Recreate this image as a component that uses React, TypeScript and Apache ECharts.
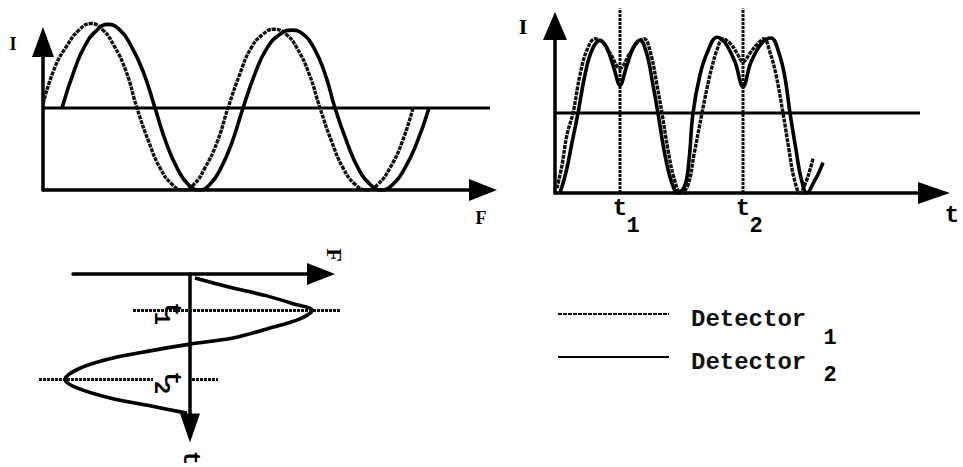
import React, { useEffect, useRef } from "react";
import * as echarts from "echarts";

// Detector names shown in the legend, with their subscripts
const DETECTORS = ["Detector 1", "Detector 2"];
const DETECTOR_SUBS = ["1", "2"];

// I(F): intensity of each detector against frequency F (mean level = 1)
const freqResponse1: number[][] = [
  [0.0, 1.05], [1.2, 1.5], [2.4, 1.76], [3.6, 1.95], [4.8, 2.03], [6.0, 1.95], [7.1, 1.76],
  [8.3, 1.45], [9.4, 1.0], [10.6, 0.58], [11.7, 0.27], [12.9, 0.07], [14.0, 0.0], [15.1, 0.07],
  [16.2, 0.27], [17.4, 0.58], [18.5, 1.0], [19.7, 1.42], [20.8, 1.73], [22.0, 1.9], [23.1, 1.96],
  [24.3, 1.9], [25.4, 1.73], [26.6, 1.42], [27.7, 1.0], [28.9, 0.58], [30.0, 0.27], [31.2, 0.07],
  [32.4, 0.0], [33.5, 0.07], [34.7, 0.27], [35.9, 0.58], [37.0, 1.0],
];
const freqResponse2: number[][] = [
  [1.9, 1.0], [3.1, 1.45], [4.2, 1.76], [5.4, 1.95], [6.5, 2.02], [7.7, 1.95], [8.8, 1.76],
  [10.0, 1.45], [11.2, 1.0], [12.3, 0.58], [13.4, 0.27], [14.5, 0.07], [15.6, 0.0], [16.7, 0.07],
  [17.8, 0.27], [18.9, 0.58], [20.0, 1.0], [21.2, 1.42], [22.4, 1.73], [23.7, 1.9], [24.9, 1.95],
  [26.0, 1.9], [27.1, 1.73], [28.2, 1.42], [29.2, 1.0], [30.4, 0.58], [31.5, 0.27], [32.7, 0.07],
  [33.8, 0.0], [35.0, 0.07], [36.2, 0.27], [37.4, 0.58], [38.6, 1.0],
];

// I(t): intensity of each detector against time t
const timeResponse1: number[][] = [
  [0.2, 0.06], [0.7, 0.35], [1.2, 0.73], [1.8, 1.0], [2.5, 1.48], [3.2, 1.79], [4.0, 1.93],
  [4.8, 1.88], [5.6, 1.73], [6.5, 1.56], [7.4, 1.73], [8.2, 1.88], [8.9, 1.93], [9.6, 1.73],
  [10.2, 1.35], [10.7, 1.0], [11.3, 0.54], [11.9, 0.19], [12.6, 0.0], [13.3, 0.1], [13.9, 0.48],
  [14.7, 1.0], [15.2, 1.31], [15.7, 1.58], [16.2, 1.79], [16.8, 1.93], [17.6, 1.86], [18.2, 1.75],
  [18.8, 1.64], [19.5, 1.75], [20.2, 1.86], [20.9, 1.93], [21.5, 1.76], [22.1, 1.48], [22.8, 1.0],
  [23.4, 0.54], [23.9, 0.19], [24.5, 0.0], [25.1, 0.14], [25.5, 0.29], [25.8, 0.43],
];
const timeResponse2: number[][] = [
  [0.5, 0.0], [1.1, 0.26], [1.7, 0.63], [2.3, 1.0], [3.0, 1.48], [3.7, 1.79], [4.5, 1.91],
  [5.2, 1.81], [5.9, 1.56], [6.5, 1.35], [7.1, 1.56], [7.8, 1.81], [8.5, 1.91], [9.2, 1.73],
  [9.8, 1.35], [10.3, 1.0], [10.9, 0.54], [11.6, 0.16], [12.3, 0.0], [13.0, 0.1], [13.4, 0.41],
  [13.8, 1.0], [14.5, 1.48], [15.2, 1.75], [16.2, 1.95], [17.0, 1.88], [18.0, 1.64], [18.8, 1.33],
  [19.6, 1.64], [20.7, 1.88], [21.6, 1.94], [22.4, 1.75], [23.0, 1.44], [23.5, 1.0], [24.1, 0.54],
  [24.6, 0.19], [25.2, 0.0], [25.9, 0.14], [26.4, 0.26], [26.8, 0.38],
];

// F(t): frequency sweep, [F, t]
const sweep: number[][] = [
  [0.5, 0.7], [4.3, 2.5], [7.7, 3.9], [10.3, 5.3], [12.2, 6.5], [11.0, 8.0], [7.7, 9.8],
  [4.3, 11.4], [0.0, 12.5], [-4.0, 13.7], [-8.0, 15.1], [-11.0, 16.8], [-12.5, 18.8],
  [-11.3, 20.3], [-8.0, 22.1], [-4.0, 23.5], [-0.3, 24.8],
];

const MEAN_I = 1;
const T1 = 6.5;
const T2 = 18.8;
const TIME_MARKS = [
  { t: T1, sub: "1" },
  { t: T2, sub: "2" },
];

// drawn axis extents
const F_MAX = 44;
const I_MAX_F = 1.805;
const T_MAX = 37.9;
const I_MAX_T = 2.09;
const SWEEP_F_MIN = -11.7;
const SWEEP_F_MAX = 13.1;
const SWEEP_T_MAX = 27.45;
// wider extents of the plotting layers that sit under the drawn axes
const F_MAX_WIDE = 45;
const SWEEP_F_MIN_WIDE = -16.7;
const SWEEP_F_MAX_WIDE = 17.0;

const MEAN_END_F = 44.7;
const MEAN_END_T = 36.5;
const MARK_TOP_I = 2.31;
// [F from, F to, t] of the dotted guides in the sweep panel
const SWEEP_GUIDES = [
  [-5.7, 15.0, T1],
  [-15.1, -3.7, T2],
  [0.2, 2.8, T2],
];

const INK = "#000";
const SERIF = '"Liberation Serif", "Times New Roman", serif';
const MONO = '"Liberation Mono", "DejaVu Sans Mono", monospace';
const dottedStyle = { color: "#111", width: 3.4, type: [4, 1] };
const solidStyle = { color: INK, width: 3.6, type: "solid" };
const meanStyle = { color: INK, width: 3, type: "solid" };
const guideStyle = { color: "#111", width: 3, type: [3, 1] };

// grid geometry (px); wide layers keep the same px-per-unit as the drawn axes
const G_FREQ = { left: 43, top: 42, width: 440, height: 148 };
const G_TIME = { left: 555, top: 26, width: 379, height: 167 };
const G_SWEEP = { left: 73, top: 274, width: 248, height: 154 };
const G_FREQ_WIDE = { left: 43, top: 42, width: 450, height: 148 };
const G_SWEEP_WIDE = { left: 23, top: 274, width: 337, height: 154 };

function makeAxis(gridIndex: number, min: number, max: number, symbol: string[], symbolSize: number[], extra: any = {}) {
  return {
    type: "value",
    gridIndex,
    min,
    max,
    axisLine: {
      show: true,
      onZero: true,
      symbol,
      symbolSize,
      lineStyle: { color: INK, width: 3.5 },
    },
    axisTick: { show: false },
    axisLabel: { show: false },
    splitLine: { show: false },
    ...extra,
  };
}

function hiddenAxis(gridIndex: number, min: number, max: number, extra: any = {}) {
  return { type: "value", gridIndex, min, max, show: false, ...extra };
}

function lineSeries(name: string, axisIndex: number, data: number[][], lineStyle: any, extra: any = {}) {
  return {
    name,
    type: "line",
    xAxisIndex: axisIndex,
    yAxisIndex: axisIndex,
    data,
    smooth: 0.5,
    symbol: "none",
    showSymbol: false,
    clip: false,
    silent: true,
    lineStyle,
    emphasis: { disabled: true },
    ...extra,
  };
}

function legendFor(name: string, top: number) {
  return {
    data: [name],
    orient: "vertical",
    left: 557,
    top,
    padding: 0,
    itemWidth: 111,
    itemHeight: 20,
    selectedMode: false,
    formatter: () => "{d|Detector}",
    itemStyle: { opacity: 0 },
    textStyle: {
      padding: [0, 0, 0, 17],
      rich: {
        d: {
          fontFamily: MONO,
          fontWeight: "bold",
          fontSize: 24,
          lineHeight: 24,
          color: "#111",
          padding: [10, 0, 0, 0],
        },
      },
    },
  };
}

export default function App() {
  const ref = useRef<HTMLDivElement>(null);

  useEffect(() => {
    if (!ref.current) return;
    const chart = echarts.init(ref.current, undefined, { renderer: "svg" });

    const option: any = {
      animation: false,
      backgroundColor: "#fff",
      grid: [G_FREQ, G_TIME, G_SWEEP, G_FREQ_WIDE, G_SWEEP_WIDE],
      xAxis: [
        makeAxis(0, 0, F_MAX, ["none", "triangle"], [22, 28]),
        makeAxis(1, 0, T_MAX, ["none", "triangle"], [22, 32]),
        makeAxis(2, SWEEP_F_MIN, SWEEP_F_MAX, ["none", "triangle"], [22, 28], { position: "top" }),
        hiddenAxis(3, 0, F_MAX_WIDE),
        hiddenAxis(4, SWEEP_F_MIN_WIDE, SWEEP_F_MAX_WIDE),
      ],
      yAxis: [
        makeAxis(0, 0, I_MAX_F, ["none", "triangle"], [22, 30]),
        makeAxis(1, 0, I_MAX_T, ["none", "triangle"], [24, 28]),
        makeAxis(2, 0, SWEEP_T_MAX, ["triangle", "none"], [20, 29], { inverse: true }),
        hiddenAxis(3, 0, I_MAX_F),
        hiddenAxis(4, 0, SWEEP_T_MAX, { inverse: true }),
      ],
      legend: [legendFor(DETECTORS[0], 297), legendFor(DETECTORS[1], 340)],
      series: [
        lineSeries("mean level (F)", 3, [[0, MEAN_I], [MEAN_END_F, MEAN_I]], meanStyle, { smooth: false, z: 2 }),
        lineSeries("mean level (t)", 1, [[0, MEAN_I], [MEAN_END_T, MEAN_I]], meanStyle, { smooth: false, z: 2 }),
        ...TIME_MARKS.map((m) =>
          lineSeries("t" + m.sub + " marker", 1, [[m.t, 0], [m.t, MARK_TOP_I]], guideStyle, { smooth: false, z: 2 })
        ),
        ...SWEEP_GUIDES.map(([f0, f1, t], i) =>
          lineSeries("sweep guide " + i, 4, [[f0, t], [f1, t]], guideStyle, { smooth: false, z: 2 })
        ),
        lineSeries(DETECTORS[0], 0, freqResponse1, dottedStyle, { z: 3 }),
        lineSeries(DETECTORS[1], 0, freqResponse2, solidStyle, { z: 4 }),
        lineSeries(DETECTORS[0], 1, timeResponse1, dottedStyle, { z: 3, smooth: 0.4 }),
        lineSeries(DETECTORS[1], 1, timeResponse2, solidStyle, { z: 4, smooth: 0.4 }),
        lineSeries("F(t)", 4, sweep, solidStyle, { smooth: 0.35, z: 4 }),
      ],
    };

    chart.setOption(option);

    const px = (g: number, v: number[]) => chart.convertToPixel({ gridIndex: g } as any, v) as number[];
    const text = (s: string, x: number, y: number, font: string, rotation = 0) => ({
      type: "text",
      x,
      y,
      rotation,
      silent: true,
      style: { text: s, font, fill: INK, align: "center", verticalAlign: "middle" },
    });
    const CW = -Math.PI / 2;
    const serif18 = `bold 18px ${SERIF}`;
    const serif22 = `bold 22px ${SERIF}`;
    const mono24 = `bold 24px ${MONO}`;
    const mono22 = `bold 22px ${MONO}`;

    const yTop0 = px(0, [0, I_MAX_F]);
    const xEnd0 = px(0, [F_MAX, 0]);
    const yTop1 = px(1, [0, I_MAX_T]);
    const xEnd1 = px(1, [T_MAX, 0]);
    const xEnd2 = px(2, [SWEEP_F_MAX, 0]);
    const yEnd2 = px(2, [0, SWEEP_T_MAX]);

    const graphic: any[] = [
      text("I", yTop0[0] - 30, yTop0[1] + 2, serif18),
      text("F", xEnd0[0] - 2, xEnd0[1] + 28, serif18),
      text("I", yTop1[0] - 32, yTop1[1], serif22),
      text("t", xEnd1[0] + 18, xEnd1[1] + 22, mono24),
      text("F", xEnd2[0] + 13, xEnd2[1] - 19, serif22, CW),
      text("t", yEnd2[0], yEnd2[1] + 30, mono24, CW),
    ];
    TIME_MARKS.forEach((m) => {
      const p = px(1, [m.t, 0]);
      graphic.push(text("t", p[0], p[1] + 15, mono24));
      graphic.push(text(m.sub, p[0] + 13, p[1] + 33, mono22));
      const q = px(2, [0, m.t]);
      graphic.push(text("t", q[0] - 19, q[1] - 1, mono24, CW));
      graphic.push(text(m.sub, q[0] - 30, q[1] + 8, mono22, CW));
    });
    DETECTOR_SUBS.forEach((s, i) => {
      graphic.push(text(s, 830, 338 + i * 37, mono22));
    });

    chart.setOption({ graphic });

    return () => chart.dispose();
  }, []);

  return (
    <div
      ref={ref}
      style={{ position: "absolute", left: 0, top: 0, width: 963, height: 467, background: "#fff" }}
    />
  );
}
